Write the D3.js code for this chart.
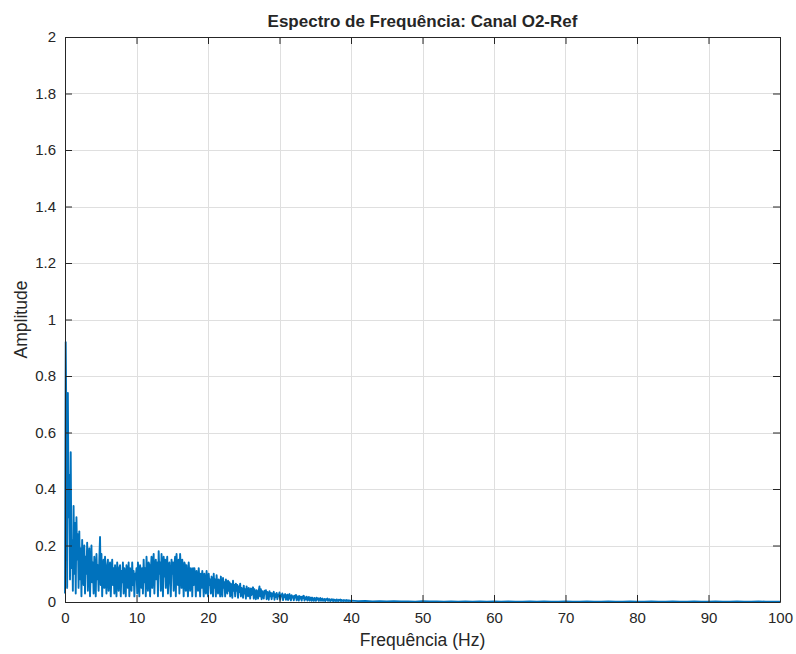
<!DOCTYPE html>
<html>
<head>
<meta charset="utf-8">
<script src="https://cdn.jsdelivr.net/npm/d3@7"></script>
<style>
  html, body { margin: 0; padding: 0; background: #ffffff; }
  svg { display: block; }
  text { font-family: "Liberation Sans", Arial, Helvetica, sans-serif; fill: #262626; }
</style>
</head>
<body>
<script>
// Amplitude spectrum, 0–39.9 Hz sampled every 0.1 Hz (one row per Hz)
const specStep = 0.1;
const specAmp = [
  0.03, 0.92, 0.60, 0.05, 0.74, 0.30, 0.45, 0.08, 0.53, 0.12,
  0.22, 0.04, 0.34, 0.10, 0.28, 0.03, 0.30, 0.15, 0.24, 0.05,
  0.25, 0.08, 0.19, 0.02, 0.22, 0.12, 0.06, 0.20, 0.03, 0.16,
  0.10, 0.21, 0.04, 0.15, 0.19, 0.02, 0.12, 0.20, 0.07, 0.14,
  0.03, 0.16, 0.11, 0.02, 0.17, 0.08, 0.13, 0.04, 0.15, 0.23,
  0.06, 0.17, 0.02, 0.12, 0.15, 0.05, 0.16, 0.09, 0.03, 0.13,
  0.15, 0.04, 0.11, 0.14, 0.02, 0.10, 0.15, 0.06, 0.12, 0.03,
  0.13, 0.08, 0.02, 0.14, 0.10, 0.04, 0.12, 0.13, 0.02, 0.11,
  0.07, 0.14, 0.03, 0.12, 0.09, 0.02, 0.13, 0.11, 0.05, 0.14,
  0.02, 0.12, 0.09, 0.04, 0.14, 0.06, 0.11, 0.02, 0.10, 0.08,
  0.12, 0.03, 0.14, 0.09, 0.02, 0.13, 0.11, 0.05, 0.12, 0.03,
  0.15, 0.07, 0.12, 0.02, 0.16, 0.10, 0.04, 0.14, 0.13, 0.02,
  0.11, 0.16, 0.05, 0.13, 0.17, 0.03, 0.12, 0.15, 0.08, 0.14,
  0.02, 0.18, 0.10, 0.14, 0.04, 0.17, 0.12, 0.02, 0.16, 0.09,
  0.15, 0.05, 0.13, 0.16, 0.03, 0.12, 0.14, 0.07, 0.02, 0.15,
  0.10, 0.14, 0.04, 0.13, 0.16, 0.02, 0.17, 0.11, 0.06, 0.15,
  0.03, 0.17, 0.12, 0.05, 0.15, 0.10, 0.02, 0.14, 0.13, 0.04,
  0.13, 0.08, 0.02, 0.14, 0.10, 0.04, 0.12, 0.11, 0.02, 0.12,
  0.06, 0.12, 0.09, 0.02, 0.11, 0.07, 0.04, 0.12, 0.08, 0.02,
  0.10, 0.05, 0.11, 0.08, 0.02, 0.10, 0.06, 0.03, 0.11, 0.07,
  0.02, 0.10, 0.06, 0.08, 0.03, 0.09, 0.07, 0.02, 0.10, 0.05,
  0.08, 0.02, 0.095, 0.06, 0.03, 0.08, 0.07, 0.02, 0.09, 0.05,
  0.02, 0.085, 0.05, 0.07, 0.02, 0.08, 0.06, 0.03, 0.075, 0.04,
  0.07, 0.02, 0.065, 0.05, 0.015, 0.075, 0.04, 0.06, 0.02, 0.065,
  0.04, 0.06, 0.015, 0.055, 0.035, 0.065, 0.02, 0.05, 0.045, 0.015,
  0.058, 0.03, 0.045, 0.012, 0.055, 0.035, 0.02, 0.05, 0.04, 0.012,
  0.048, 0.025, 0.04, 0.052, 0.012, 0.045, 0.03, 0.01, 0.042, 0.035,
  0.012, 0.04, 0.055, 0.02, 0.045, 0.01, 0.038, 0.03, 0.012, 0.04,
  0.03, 0.042, 0.01, 0.036, 0.025, 0.008, 0.038, 0.02, 0.032, 0.01,
  0.03, 0.022, 0.036, 0.008, 0.028, 0.018, 0.032, 0.01, 0.026, 0.02,
  0.034, 0.008, 0.026, 0.02, 0.03, 0.007, 0.024, 0.018, 0.028, 0.008,
  0.022, 0.026, 0.007, 0.02, 0.028, 0.012, 0.006, 0.024, 0.016, 0.02,
  0.006, 0.022, 0.016, 0.025, 0.006, 0.018, 0.02, 0.005, 0.021, 0.012,
  0.018, 0.005, 0.02, 0.014, 0.022, 0.005, 0.016, 0.011, 0.019, 0.005,
  0.014, 0.018, 0.005, 0.012, 0.016, 0.004, 0.015, 0.01, 0.004, 0.014,
  0.012, 0.004, 0.015, 0.009, 0.013, 0.004, 0.011, 0.014, 0.004, 0.01,
  0.012, 0.004, 0.009, 0.011, 0.003, 0.01, 0.008, 0.012, 0.004, 0.009,
  0.01, 0.003, 0.008, 0.01, 0.004, 0.009, 0.003, 0.008, 0.007, 0.003,
  0.009, 0.006, 0.003, 0.008, 0.005, 0.009, 0.003, 0.007, 0.006, 0.003,
  0.007, 0.004, 0.006, 0.003, 0.007, 0.005, 0.003, 0.006, 0.004, 0.003
];
// Residual amplitude, 40–100 Hz every 1 Hz
const tailStart = 40;
const tailAmp = [
  0.005, 0.003, 0.004, 0.002, 0.003, 0.002, 0.003, 0.002, 0.002, 0.001,
  0.003, 0.002, 0.002, 0.001, 0.002, 0.001, 0.002, 0.001, 0.002, 0.001,
  0.002, 0.001, 0.002, 0.001, 0.001, 0.002, 0.001, 0.002, 0.001, 0.001,
  0.002, 0.001, 0.001, 0.002, 0.001, 0.001, 0.002, 0.001, 0.001, 0.002,
  0.001, 0.001, 0.002, 0.001, 0.001, 0.002, 0.001, 0.001, 0.002, 0.001,
  0.001, 0.002, 0.001, 0.001, 0.002, 0.001, 0.001, 0.002, 0.001, 0.001,
  0.001
];
const xTicks = [0, 10, 20, 30, 40, 50, 60, 70, 80, 90, 100];
const yTicks = [0, 0.2, 0.4, 0.6, 0.8, 1, 1.2, 1.4, 1.6, 1.8, 2];
const titleText = "Espectro de Frequência: Canal O2-Ref";
const xLabelText = "Frequência (Hz)";
const yLabelText = "Amplitude";

const W = 796, H = 654;
const m = { left: 65, right: 16, top: 37, bottom: 52 };
const iw = W - m.left - m.right, ih = H - m.top - m.bottom;

const points = specAmp.map((a, i) => [i * specStep, a])
  .concat(tailAmp.map((a, j) => [tailStart + j, a]));

const svg = d3.select("body").append("svg").attr("width", W).attr("height", H);
const g = svg.append("g").attr("transform", `translate(${m.left},${m.top})`);

const x = d3.scaleLinear().domain([0, 100]).range([0, iw]);
const y = d3.scaleLinear().domain([0, 2]).range([ih, 0]);

// grid
g.append("g").selectAll("line").data(xTicks.slice(1, -1)).join("line")
  .attr("x1", d => Math.round(x(d)) + 0.5).attr("x2", d => Math.round(x(d)) + 0.5)
  .attr("y1", 0).attr("y2", ih).attr("stroke", "#dfdfdf").attr("stroke-width", 1);
g.append("g").selectAll("line").data(yTicks.slice(1, -1)).join("line")
  .attr("y1", d => Math.round(y(d)) + 0.5).attr("y2", d => Math.round(y(d)) + 0.5)
  .attr("x1", 0).attr("x2", iw).attr("stroke", "#dfdfdf").attr("stroke-width", 1);

// spectrum trace
const line = d3.line().x(d => x(d[0])).y(d => y(d[1]));
g.append("path").datum(points)
  .attr("d", line)
  .attr("fill", "none")
  .attr("stroke", "#0072BD")
  .attr("stroke-width", 1.9)
  .attr("stroke-linejoin", "round");

// axes (ticks inward)
const tickLen = 7;
const axColor = "#262626";
const fmt = d => String(d);

const xAxisB = g.append("g").attr("transform", `translate(0,${ih})`)
  .call(d3.axisBottom(x).tickValues(xTicks).tickFormat(fmt).tickSizeInner(-tickLen).tickSizeOuter(0).tickPadding(10));
const xAxisT = g.append("g")
  .call(d3.axisTop(x).tickValues(xTicks).tickFormat("").tickSizeInner(-tickLen).tickSizeOuter(0));
const yAxisL = g.append("g")
  .call(d3.axisLeft(y).tickValues(yTicks).tickFormat(fmt).tickSizeInner(-tickLen).tickSizeOuter(0).tickPadding(9));
const yAxisR = g.append("g").attr("transform", `translate(${iw},0)`)
  .call(d3.axisRight(y).tickValues(yTicks).tickFormat("").tickSizeInner(-tickLen).tickSizeOuter(0));

[xAxisB, xAxisT, yAxisL, yAxisR].forEach(a => {
  a.select(".domain").attr("stroke", axColor).attr("stroke-width", 1);
  a.selectAll(".tick line").attr("stroke", axColor);
  a.selectAll("text").attr("font-size", 15).attr("fill", axColor)
    .attr("font-family", '"Liberation Sans", Arial, sans-serif');
});

// titles
svg.append("text").attr("x", m.left + iw / 2).attr("y", 27)
  .attr("text-anchor", "middle").attr("font-size", 17).attr("font-weight", "bold")
  .text(titleText);
svg.append("text").attr("x", m.left + iw / 2).attr("y", 646)
  .attr("text-anchor", "middle").attr("font-size", 17.5)
  .text(xLabelText);
svg.append("text").attr("transform", `translate(27,${m.top + ih / 2}) rotate(-90)`)
  .attr("text-anchor", "middle").attr("font-size", 17.5)
  .text(yLabelText);
</script>
</body>
</html>
